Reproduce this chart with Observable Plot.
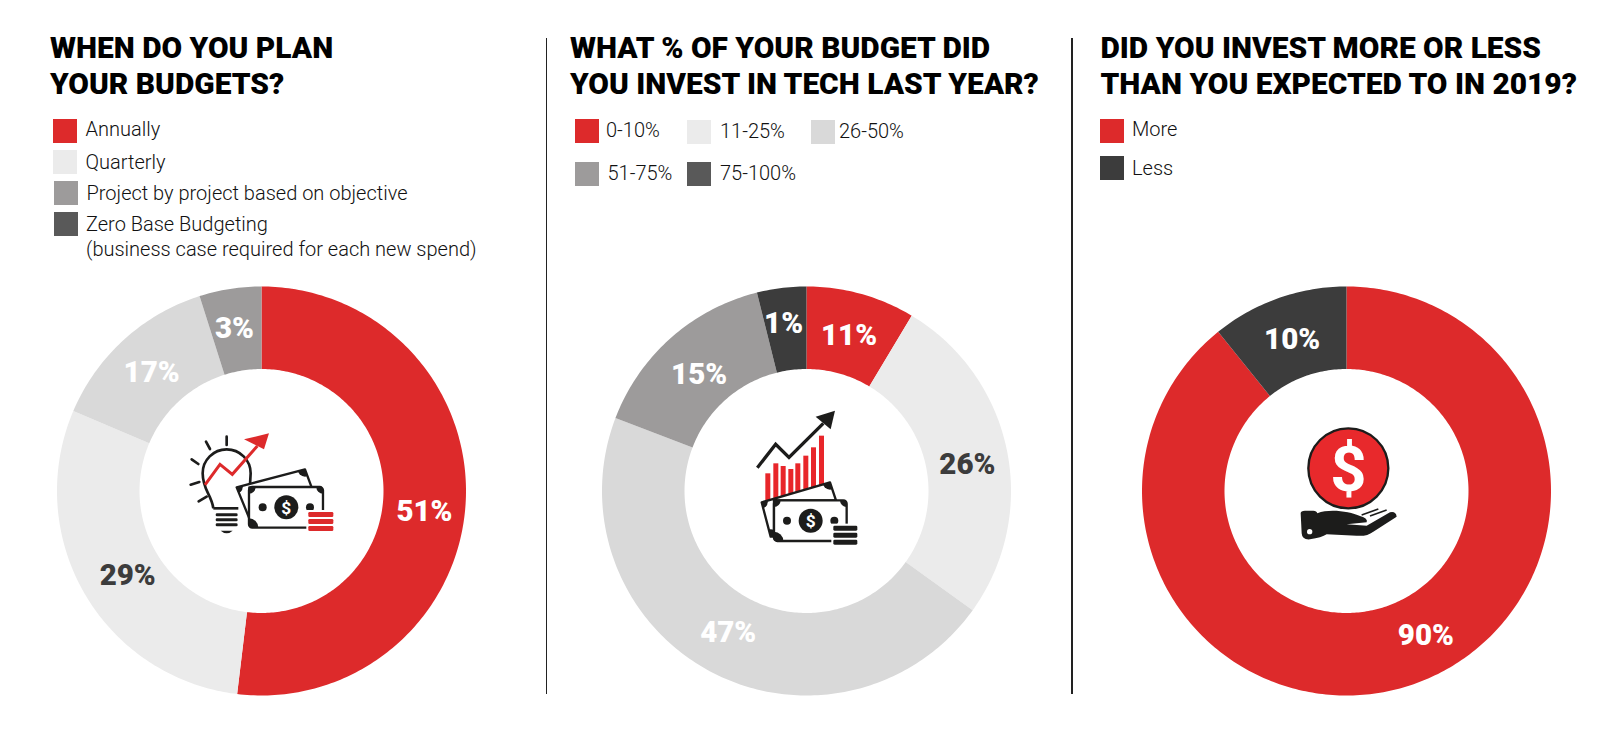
<!DOCTYPE html>
<html><head><meta charset="utf-8">
<script src="https://cdn.jsdelivr.net/npm/d3@7"></script>
<script src="https://cdn.jsdelivr.net/npm/@observablehq/plot@0.6"></script>
<style>
html,body{margin:0;padding:0;background:#fff}
#page{position:relative;width:1620px;height:736px;overflow:hidden;font-family:Roboto,sans-serif;color:#000}
.title{position:absolute;font-weight:900;font-size:29.9px;line-height:35.7px;white-space:pre;margin:0;color:#000}
.sw{position:absolute;width:24px;height:24px}
.lg{position:absolute;font-weight:300;font-size:20px;line-height:24.8px;white-space:pre;color:#111}
.rule{position:absolute;width:1.5px;background:#222;top:38px;height:656px}
.donut{position:absolute}
</style></head><body><div id="page"></div>
<script>
// ---------- data ----------
const planCategories = ["Annually","Quarterly","Project by project based on objective","Zero Base Budgeting\n(business case required for each new spend)"];
const planLabels = ["51%","29%","17%","3%"];
const planShares = [51.9,29.5,13.7,4.9];
const techCategories = ["0-10%","11-25%","26-50%","51-75%","75-100%"];
const techLabels = ["11%","26%","47%","15%","1%"];
const techShares = [8.6,26.3,45.9,15.3,3.9];
const moreCategories = ["More","Less"];
const moreLabels = ["90%","10%"];
const moreShares = [89.2,10.8];

// ---------- styles ----------
const RED="#dd2a2b",L1="#ebebeb",L2="#d9d9d9",G="#9d9b9b",DK="#3c3c3c",LD="#595959";
const R=204.5, r=122, CY=490.5;
const panels=[
 {cx:261,title:"WHEN DO YOU PLAN\nYOUR BUDGETS?",tx:50,cats:planCategories,labels:planLabels,shares:planShares,
  slice:[RED,L1,L2,G],swatch:[RED,L1,G,LD],ink:["#fff",DK,"#fff","#fff"],
  nudge:[[0,11],[7.5,3],[0,2],[-2,-1]],
  lay:[[53,119,85.5,117.4],[52.5,150,85.5,150.4],[54,181,86.5,181.4],[53.5,212,86,211.9]],icon:drawIdea},
 {cx:806,title:"WHAT % OF YOUR BUDGET DID\nYOU INVEST IN TECH LAST YEAR?",tx:570,cats:techCategories,labels:techLabels,shares:techShares,
  slice:[RED,L1,L2,G,DK],swatch:[RED,L1,L2,G,LD],ink:["#fff",DK,"#fff","#fff","#fff"],
  nudge:[[-1,2],[1,7],[-1,-2],[1,6],[-3,-5]],
  lay:[[574.5,119,606,118.4],[687,120,720,119.4],[811,120,839,119.4],[575,162,607.5,161.4],[687,162,720,161.4]],icon:drawTech},
 {cx:1346,title:"DID YOU INVEST MORE OR LESS\nTHAN YOU EXPECTED TO IN 2019?",tx:1100.5,cats:moreCategories,labels:moreLabels,shares:moreShares,
  slice:[RED,DK],swatch:[RED,DK],ink:["#fff","#fff"],
  nudge:[[25,-9],[0,2]],
  lay:[[1100,119,1132,117.4],[1100,156,1132,156.4]],icon:drawHand}
];

function el(tag,cls,css,txt){const e=document.createElement(tag);e.className=cls;Object.assign(e.style,css);if(txt!=null)e.textContent=txt;return e;}
const page=document.getElementById("page");
[545.7,1071].forEach(x=>page.append(el("div","rule",{left:x+"px"})));

function arcPoints(shares){
  const pie=d3.pie().sort(null)(shares), pts=[];
  pie.forEach((s,i)=>{
    const n=Math.max(8,Math.ceil((s.endAngle-s.startAngle)*60));
    for(let k=0;k<=n;k++){const a=s.startAngle+(s.endAngle-s.startAngle)*k/n;pts.push({i,x:R*Math.sin(a),y:-R*Math.cos(a)});}
    for(let k=n;k>=0;k--){const a=s.startAngle+(s.endAngle-s.startAngle)*k/n;pts.push({i,x:r*Math.sin(a),y:-r*Math.cos(a)});}
  });
  return pts;
}
function labelPoints(p){
  return d3.pie().sort(null)(p.shares).map((s,i)=>{
    const a=(s.startAngle+s.endAngle)/2,m=(R+r)/2;
    return {t:p.labels[i],ink:p.ink[i],x:m*Math.sin(a)+p.nudge[i][0],y:-m*Math.cos(a)+p.nudge[i][1]};
  });
}

panels.forEach(p=>{
  page.append(el("h2","title",{left:p.tx+"px",top:"30px"},p.title));
  p.cats.forEach((c,i)=>{
    const [sx,sy,tx,ty]=p.lay[i];
    page.append(el("div","sw",{left:sx+"px",top:sy+"px",background:p.swatch[i]}));
    page.append(el("div","lg",{left:tx+"px",top:ty+"px"},c));
  });
  const left=p.cx-210, top=280;
  const chart=Plot.plot({
    width:420,height:420,margin:0,
    x:{domain:[-210,210],axis:null},
    y:{domain:[-210.5,209.5],axis:null,reverse:true},
    color:{type:"ordinal",domain:d3.range(p.shares.length),range:p.slice},
    style:{background:"transparent",fontFamily:"Roboto,sans-serif"},
    marks:[
      Plot.line(arcPoints(p.shares),{x:"x",y:"y",z:"i",fill:"i",stroke:"none",curve:"linear"}),
      Plot.text(labelPoints(p),{x:"x",y:"y",text:"t",fill:"ink",fontSize:29.5,fontWeight:900,fontFamily:"Roboto,sans-serif"}),
      ()=>{const g=d3.create("svg:g").attr("transform",`translate(${-left},${-top})`);p.icon(g);return g.node();}
    ]
  });
  chart.classList.add("donut");
  Object.assign(chart.style,{left:left+"px",top:top+"px"});
  page.append(chart);
});

// ---------- pictograms (decorative, not data) ----------
function dollar(g,x,y,size,fill){g.append("text").attr("x",x).attr("y",y).attr("text-anchor","middle").attr("dy","0.36em")
  .attr("font-family","Roboto,sans-serif").attr("font-weight",700).attr("font-size",size).attr("fill",fill).text("$");}
function bills(g,o){
  const K="#1c1c1b";
  g.append("clipPath").attr("id",o.id+"b").append("path").attr("d",o.back);
  g.append("clipPath").attr("id",o.id+"f").append("rect").attr("x",o.x).attr("y",o.y).attr("width",o.w).attr("height",o.h).attr("rx",10);
  g.append("path").attr("d",o.back).attr("fill","#fff").attr("stroke",K).attr("stroke-width",7).attr("stroke-linejoin","round");
  o.backDots.forEach(d=>g.append("circle").attr("cx",d[0]).attr("cy",d[1]).attr("r",d[2]).attr("fill",K).attr("clip-path",`url(#${o.id}b)`));
  g.append("rect").attr("x",o.x).attr("y",o.y).attr("width",o.w).attr("height",o.h).attr("rx",10).attr("fill","#fff").attr("stroke",K).attr("stroke-width",7);
  [[o.x,o.y,20],[o.x+o.w,o.y,20],[o.x,o.y+o.h,28]].forEach(d=>
    g.append("circle").attr("cx",d[0]).attr("cy",d[1]).attr("r",d[2]).attr("fill",K).attr("clip-path",`url(#${o.id}f)`));
  const cx=o.x+o.w/2+1,cy=o.y+o.h/2;
  g.append("circle").attr("cx",cx).attr("cy",cy).attr("r",36).attr("fill",K);
  dollar(g,cx,cy,52,"#fff");
  [-71,71].forEach(d=>g.append("circle").attr("cx",cx+d).attr("cy",cy).attr("r",12).attr("fill",K));
  g.append("rect").attr("x",o.sx-6).attr("y",o.sy-6).attr("width",o.sw+12).attr("height",66).attr("fill","#fff");
  [0,21,42].forEach(d=>g.append("rect").attr("x",o.sx).attr("y",o.sy+d).attr("width",o.sw).attr("height",15).attr("rx",4).attr("fill",o.stack));
}
function drawIdea(root){
  const K="#1c1c1b",g=root.append("g").attr("transform","translate(170,410) scale(0.3333)");
  g.append("path").attr("d","M130 295 C125 255 98 240 98 190 A72 72 0 0 1 242 190 L240 225").attr("fill","none").attr("stroke",K).attr("stroke-width",8);
  g.append("path").attr("d","M130 295 H205").attr("stroke",K).attr("stroke-width",8);
  [310,325,340].forEach(y=>g.append("rect").attr("x",137).attr("y",y).attr("width",66).attr("height",9).attr("rx",4).attr("fill",K));
  g.append("path").attr("d","M152 362 Q170 378 188 362 Z").attr("fill",K);
  [[170,80,170,105],[108,95,120,117],[65,148,85,162],[62,224,88,216],[86,274,110,260]].forEach(d=>
    g.append("line").attr("x1",d[0]).attr("y1",d[1]).attr("x2",d[2]).attr("y2",d[3]).attr("stroke",K).attr("stroke-width",8).attr("stroke-linecap","round"));
  g.append("polyline").attr("points","105,225 150,163 187,193 262,108").attr("fill","none").attr("stroke",RED).attr("stroke-width",9);
  g.append("polygon").attr("points","297,70 222,88 282,118").attr("fill",RED);
  bills(g,{id:"ic1",back:"M200 232 L405 178 L425 232 L238 232 L240 330 Z",backDots:[[405,178,22],[200,232,18]],x:237,y:231,w:222,h:122,sx:415,sy:306,sw:75,stack:RED});
}
function drawTech(root){
  const K="#1c1c1b",g=root.append("g").attr("transform","translate(730,395) scale(0.3333)");
  g.append("polyline").attr("points","82,218 137,148 177,187 280,85").attr("fill","none").attr("stroke",K).attr("stroke-width",10);
  g.append("polygon").attr("points","315,47 257,65 302,103").attr("fill",K);
  [[106,235],[130,205],[152,213],[175,222],[196,205],[220,182],[243,157],[267,122]].forEach(d=>
    g.append("rect").attr("x",d[0]).attr("y",d[1]).attr("width",15).attr("height",330-d[1]).attr("fill","#e8262a"));
  bills(g,{id:"ic2",back:"M95 322 L300 262 L318 316 L132 316 L132 425 L122 425 Z",backDots:[[300,262,22],[95,322,18],[122,425,22]],x:132,y:316,w:218,h:122,sx:310,sy:392,sw:72,stack:K});
}
function drawHand(root){
  const K="#1c1c1b",g=root.append("g").attr("transform","translate(1270,415) scale(0.3333)");
  g.append("circle").attr("cx",235).attr("cy",160).attr("r",120).attr("fill","#e8292c").attr("stroke",K).attr("stroke-width",7);
  dollar(g,235,160,190,"#fff");
  g.append("path").attr("fill",K).attr("d","M92 295 Q92 287 105 287 H130 Q140 287 142 295 C180 280 240 290 270 303 Q295 310 290 322 L230 328 L290 332 L360 292 Q378 288 380 305 L310 350 Q290 365 260 362 L170 358 Q155 368 120 373 Q96 375 95 355 Z");
  g.append("circle").attr("cx",119).attr("cy",350).attr("r",8).attr("fill","#fff");
  [[275,300,325,282],[300,303,350,285]].forEach(d=>g.append("line").attr("x1",d[0]).attr("y1",d[1]).attr("x2",d[2]).attr("y2",d[3]).attr("stroke",K).attr("stroke-width",5));
}
</script></body></html>
